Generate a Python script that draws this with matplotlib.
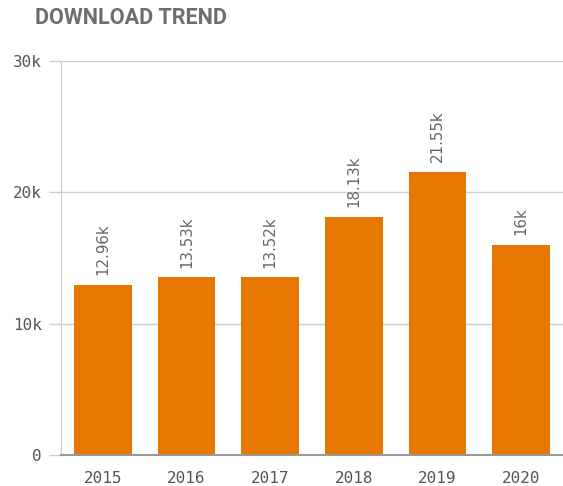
import matplotlib.pyplot as plt
import numpy as np

# === DATOS ===
years = ["2015", "2016", "2017", "2018", "2019", "2020"]
downloads = [12960, 13530, 13520, 18130, 21550, 16000]
bar_labels = ["12.96k", "13.53k", "13.52k", "18.13k", "21.55k", "16k"]
y_ticks = [0, 10000, 20000, 30000]
y_tick_labels = ["0", "10k", "20k", "30k"]

ORANGE = "#e67700"
GRAY_TXT = "#555555"

fig = plt.figure(figsize=(5.63, 4.86), dpi=100)
ax = fig.add_axes([61 / 563, 1 - 455 / 486, 502 / 563, 394 / 486])

x = np.arange(len(years))
bars = ax.bar(x, downloads, width=0.69, color=ORANGE, zorder=3)

# etiquetas giradas encima de cada barra
for b, lab in zip(bars, bar_labels):
    ax.annotate(lab, (b.get_x() + b.get_width() / 2, b.get_height()),
                xytext=(0, 7), textcoords="offset points",
                ha="center", va="bottom", rotation=90,
                fontsize=10.8, color="#666666", family="DejaVu Sans")

ax.set_xlim(-0.5, len(years) - 0.5)
ax.set_ylim(0, 30000)
ax.set_xticks(x)
ax.set_xticklabels(years, family="DejaVu Sans Mono", fontsize=11.5, color=GRAY_TXT)
ax.set_yticks(y_ticks)
ax.set_yticklabels(y_tick_labels, family="DejaVu Sans Mono", fontsize=11.5, color=GRAY_TXT)
ax.tick_params(axis="y", length=9, width=1, color="#cccccc", pad=5)
ax.tick_params(axis="x", length=0, pad=11.5)

ax.grid(axis="y", color="#d0d0d0", linewidth=1, zorder=0)
ax.set_axisbelow(True)
for s in ["top", "right"]:
    ax.spines[s].set_visible(False)
ax.spines["left"].set_color("#cccccc")
ax.spines["bottom"].set_color("#999999")
ax.spines["bottom"].set_linewidth(1.5)
ax.spines["bottom"].set_zorder(4)

fig.text(35 / 563, 1 - 18 / 486, "DOWNLOAD TREND", family="Roboto", fontweight="bold",
         fontsize=15.6, color="#6e6e6e", va="center", ha="left")

fig.savefig("out.png", dpi=100)
